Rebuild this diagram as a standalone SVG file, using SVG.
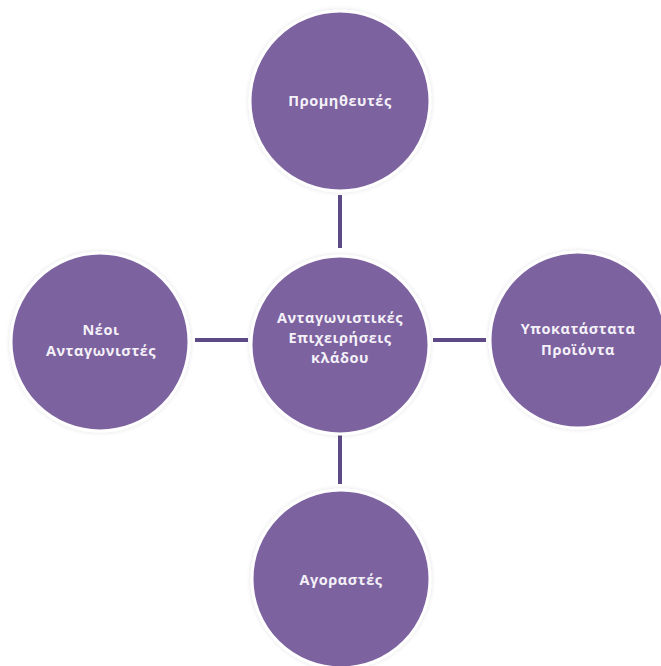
<svg xmlns="http://www.w3.org/2000/svg" width="661" height="666" viewBox="0 0 661 666">
  <defs>
    <filter id="soft" x="-20%" y="-20%" width="140%" height="140%">
      <feDropShadow dx="0" dy="0" stdDeviation="2" flood-color="#000000" flood-opacity="0.12"/>
    </filter>
  </defs>
  <style>
    .node circle { fill: #7d62a0; stroke: #ffffff; stroke-width: 3; filter: url(#soft); }
    .node text { fill: #f4f1f8; font-family: "Open Sans", "Noto Sans", sans-serif; font-weight: bold; font-size: 14.5px; text-anchor: middle; letter-spacing: 0.55px; }
    .links line { stroke: #5e4a86; stroke-width: 4; }
  </style>
  <rect width="661" height="666" fill="#ffffff"/>

  <!-- connectors between the centre node and the four outer nodes -->
  <g class="links">
    <line x1="340" y1="195" x2="340" y2="248"/>
    <line x1="340" y1="432" x2="340" y2="484"/>
    <line x1="195" y1="340" x2="248" y2="340"/>
    <line x1="433" y1="340" x2="486" y2="340"/>
  </g>

  <g id="node-suppliers" class="node">
    <circle cx="340" cy="101" r="90"/>
    <text x="340" y="106">Προμηθευτές</text>
  </g>

  <g id="node-rivals" class="node">
    <circle cx="340" cy="345" r="89"/>
    <text x="340" y="323">Ανταγωνιστικές</text>
    <text x="340" y="343">Επιχειρήσεις</text>
    <text x="340" y="363">κλάδου</text>
  </g>

  <g id="node-entrants" class="node">
    <circle cx="100" cy="342" r="89"/>
    <text x="101" y="335">Νέοι</text>
    <text x="101" y="356">Ανταγωνιστές</text>
  </g>

  <g id="node-substitutes" class="node">
    <circle cx="578" cy="340" r="88"/>
    <text x="578" y="334">Υποκατάστατα</text>
    <text x="578" y="355">Προϊόντα</text>
  </g>

  <g id="node-buyers" class="node">
    <circle cx="341" cy="579" r="89"/>
    <text x="341" y="585">Αγοραστές</text>
  </g>
</svg>
